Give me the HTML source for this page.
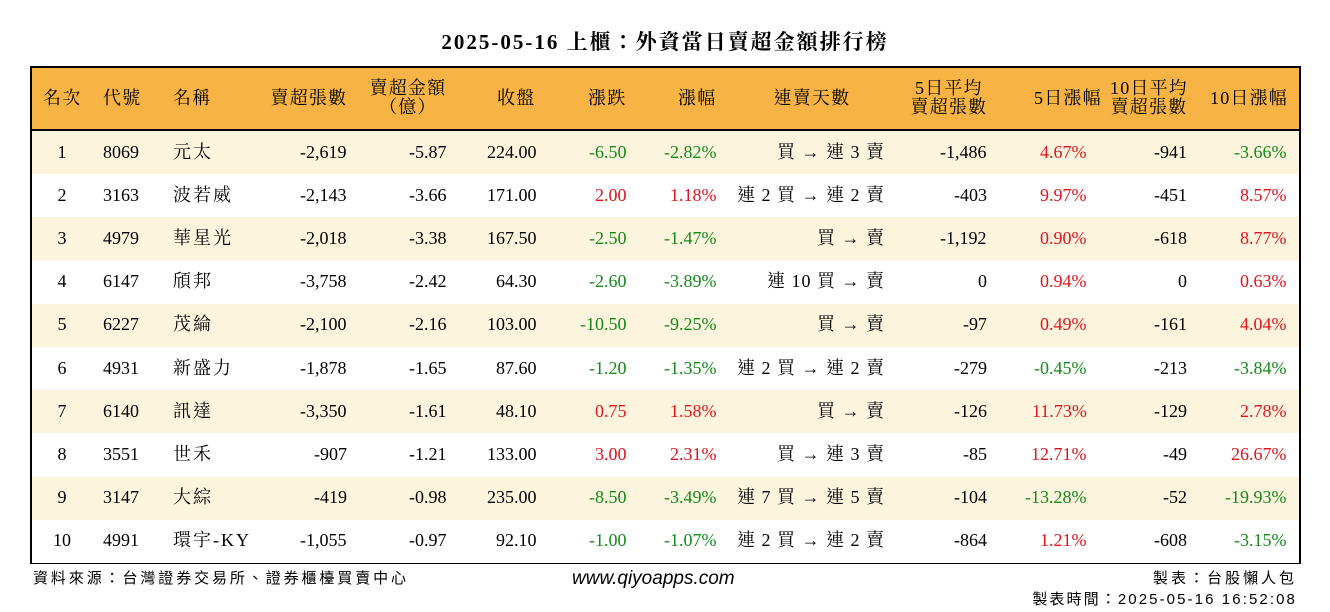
<!DOCTYPE html>
<html><head><meta charset="utf-8">
<style>
body{margin:0;width:1330px;height:612px;background:#fff;position:relative;overflow:hidden;font-family:"Liberation Serif","Noto Serif CJK TC","Noto Serif CJK SC",serif;color:#000}
.t{position:absolute;white-space:nowrap;font-size:18px;line-height:20px}
#title{position:absolute;left:0;width:1330px;top:30px;text-align:center;font-size:21px;letter-spacing:2px;font-weight:bold;line-height:24px}
#tbl{position:absolute;left:30px;top:66px;width:1267px;height:494px;border:2px solid #000}
.hd{position:absolute;left:0;top:0;width:1267px;height:61px;background:#f7b444;border-bottom:2px solid #000}
.row{position:absolute;left:0;width:1267px;height:43.2px}
.g{color:#138a1a}.r{color:#e0141e}
.ft{position:absolute;font-size:15px;white-space:nowrap;font-family:"Liberation Sans","Noto Sans CJK TC",sans-serif}
.hdt{letter-spacing:1.2px}
.nm{letter-spacing:2px}
.st{letter-spacing:1px}
</style></head><body>
<div id="title">2025-05-16 上櫃：外資當日賣超金額排行榜</div>
<div id="tbl"><div class="hd"></div></div>
<div class="ft" style="left:33px;top:567px;letter-spacing:2.9px">資料來源：台灣證券交易所、證券櫃檯買賣中心</div>
<div class="ft" style="left:572px;top:568px;font-size:19px;font-style:italic">www.qiyoapps.com</div>
<div class="ft" style="right:33px;top:567px;letter-spacing:3px">製表：台股懶人包</div>
<div class="ft" style="right:33px;top:588px;letter-spacing:2.1px">製表時間：2025-05-16 16:52:08</div>
<script>
const headers=["名次","代號","名稱","賣超張數","賣超金額<br>（億）","收盤","漲跌","漲幅","連賣天數","5日平均<br>賣超張數","5日漲幅","10日平均<br>賣超張數","10日漲幅"];
const codes=["8069","3163","4979","6147","6227","4931","6140","3551","3147","4991"];
const names=["元太","波若威","華星光","頎邦","茂綸","新盛力","訊達","世禾","大綜","環宇-KY"];
const sellVol=["-2,619","-2,143","-2,018","-3,758","-2,100","-1,878","-3,350","-907","-419","-1,055"];
const sellAmt=["-5.87","-3.66","-3.38","-2.42","-2.16","-1.65","-1.61","-1.21","-0.98","-0.97"];
const close=["224.00","171.00","167.50","64.30","103.00","87.60","48.10","133.00","235.00","92.10"];
const chg=["-6.50","2.00","-2.50","-2.60","-10.50","-1.20","0.75","3.00","-8.50","-1.00"];
const pct=["-2.82%","1.18%","-1.47%","-3.89%","-9.25%","-1.35%","1.58%","2.31%","-3.49%","-1.07%"];
const streak=["買 → 連 3 賣","連 2 買 → 連 2 賣","買 → 賣","連 10 買 → 賣","買 → 賣","連 2 買 → 連 2 賣","買 → 賣","買 → 連 3 賣","連 7 買 → 連 5 賣","連 2 買 → 連 2 賣"];
const avg5=["-1,486","-403","-1,192","0","-97","-279","-126","-85","-104","-864"];
const pct5=["4.67%","9.97%","0.90%","0.94%","0.49%","-0.45%","11.73%","12.71%","-13.28%","1.21%"];
const avg10=["-941","-451","-618","0","-161","-213","-129","-49","-52","-608"];
const pct10=["-3.66%","8.57%","8.77%","0.63%","4.04%","-3.84%","2.78%","26.67%","-19.93%","-3.15%"];
const cols=[[62,"c"],[103,"l"],[173,"l"],[347,"r"],[447,"r"],[537,"r"],[627,"r"],[717,"r"],[885,"r"],[987,"r"],[1087,"r"],[1187,"r"],[1287,"r"]];
const hdrX=[[62,"c"],[122,"c"],[192,"c"],[309,"c"],[408,"c"],[516,"c"],[607,"c"],[697,"c"],[812,"c"],[949,"c"],[1068,"c"],[1149,"c"],[1249,"c"]];
function place(txt,x,align,yc,cls,name){
  const d=document.createElement('div');
  d.className='t '+(cls||'');
  d.innerHTML=txt;
  
  
  document.body.appendChild(d);
  if(txt.includes('<br>')){d.style.textAlign='center';d.style.lineHeight='19px';}
  const w=d.offsetWidth,h=d.offsetHeight;
  let l=align=="l"?x:align=="r"?x-w:x-w/2;
  d.style.left=l+'px';d.style.top=(yc-h/2)+'px';
}
const tbl=document.getElementById('tbl');
headers.forEach((h,i)=>place(h,hdrX[i][0],"c",98,'hdt','header-'+i));
const rowTop=129,rowH=43.2;
const cc=v=>v.trim().startsWith('-')?'g':(parseFloat(v)>0?'r':'');
for(let i=0;i<10;i++){
  const rw=document.createElement('div');rw.className='row';
  
  
  rw.style.top=(63+i*rowH)+'px';rw.style.background=i%2==0?'#fdf4de':'#ffffff';
  tbl.appendChild(rw);
  const yc=rowTop+i*rowH+rowH/2+1;
  const vals=[String(i+1),codes[i],names[i],sellVol[i],sellAmt[i],close[i],chg[i],pct[i],streak[i],avg5[i],pct5[i],avg10[i],pct10[i]];
  const colored=[6,7,10,12];
  vals.forEach((v,j)=>place(v,cols[j][0],cols[j][1],yc,(colored.includes(j)?cc(v):'')+(j==2?' nm':'')+(j==8?' st':''),'cell-r'+(i+1)+'-c'+j));
}
</script>
</body></html>
